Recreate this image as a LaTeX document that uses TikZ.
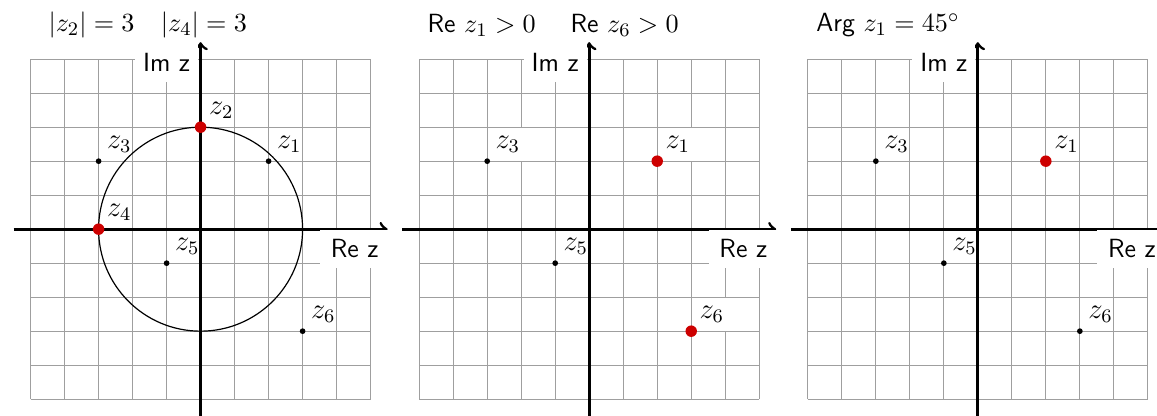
\documentclass[tikz,border=0pt]{standalone}
\definecolor{hotred}{RGB}{205,0,0}
\tikzset{
  gridline/.style={draw=gray!75, line width=0.4pt, step=0.5cm},
  axis/.style={->, line width=1.2pt},
  axislabel/.style={fill=white, font=\sffamily\fontsize{11}{13}\selectfont, minimum height=16pt},
  title/.style={anchor=west, font=\fontsize{11}{13}\selectfont},
  zlabel/.style={anchor=south west, font=\large},
  dot/.style={circle, fill=black, inner sep=0pt, minimum size=2.4pt},
  hot/.style={circle, fill=hotred, inner sep=0pt, minimum size=4.8pt},
}
\begin{document}
\begin{tikzpicture}[x=0.5cm, y=0.5cm, >=to]
  \useasboundingbox (-5.9,-5.47) rectangle (28.13,6.74);

  % Plano 1: modulo
  \draw[gridline] (-5,-5) grid (5,5);
  \node[title] (t1) at (-4.72,6) {$|z_2| = 3 \quad |z_4| = 3$};
  \draw[line width=0.5pt] (0,0) circle (3);
  \coordinate (z1a) at (2,2);
  \coordinate (z2a) at (0,3);
  \coordinate (z3a) at (-3,2);
  \coordinate (z4a) at (-3,0);
  \coordinate (z5a) at (-1,-1);
  \coordinate (z6a) at (3,-3);
  \node[zlabel] (l1a) at (z1a) {$z_1$};
  \node[zlabel] (l2a) at (z2a) {$z_2$};
  \node[zlabel] (l3a) at (z3a) {$z_3$};
  \node[zlabel] (l4a) at (z4a) {$z_4$};
  \node[zlabel] (l5a) at (z5a) {$z_5$};
  \node[zlabel] (l6a) at (z6a) {$z_6$};
  \coordinate (xla) at (-5.5,0);
  \coordinate (xra) at (5.5,0);
  \coordinate (yba) at (0,-5.5);
  \coordinate (yta) at (0,5.5);
  \draw[axis] (xla) -- (xra);
  \draw[axis] (yba) -- (yta);
  \node[axislabel, anchor=south east] (ima) at (-0.06,4.32) {Im z};
  \node[axislabel, anchor=south west, minimum width=29pt] (rea) at (3.5,-1.15) {Re z};
  \node[dot] (d1a) at (z1a) {};
  \node[hot] (d2a) at (z2a) {};
  \node[dot] (d3a) at (z3a) {};
  \node[hot] (d4a) at (z4a) {};
  \node[dot] (d5a) at (z5a) {};
  \node[dot] (d6a) at (z6a) {};

  % Plano 2: parte real
  \begin{scope}[xshift=5.715cm]
    \draw[gridline] (-5,-5) grid (5,5);
    \node[title] (t2) at (-5,6) {{\sffamily Re} $z_1 > 0$ \quad {\sffamily Re} $z_6 > 0$};
    \coordinate (z1b) at (2,2);
    \coordinate (z3b) at (-3,2);
    \coordinate (z5b) at (-1,-1);
    \coordinate (z6b) at (3,-3);
    \node[zlabel, fill=white] (l1b) at (z1b) {$z_1$};
    \node[zlabel, fill=white] (l3b) at (z3b) {$z_3$};
    \node[zlabel, fill=white] (l5b) at (z5b) {$z_5$};
    \node[zlabel, fill=white] (l6b) at (z6b) {$z_6$};
    \coordinate (xlb) at (-5.5,0);
    \coordinate (xrb) at (5.5,0);
    \coordinate (ybb) at (0,-5.5);
    \coordinate (ytb) at (0,5.5);
    \draw[axis] (xlb) -- (xrb);
    \draw[axis] (ybb) -- (ytb);
    \node[axislabel, anchor=south east] (imb) at (-0.06,4.32) {Im z};
    \node[axislabel, anchor=south west, minimum width=29pt] (reb) at (3.5,-1.15) {Re z};
    \node[hot] (d1b) at (z1b) {};
    \node[dot] (d3b) at (z3b) {};
    \node[dot] (d5b) at (z5b) {};
    \node[hot] (d6b) at (z6b) {};
  \end{scope}

  % Plano 3: argumento
  \begin{scope}[xshift=11.43cm]
    \draw[gridline] (-5,-5) grid (5,5);
    \node[title] (t3) at (-5,6) {{\sffamily Arg} $z_1 = 45^\circ$};
    \coordinate (z1c) at (2,2);
    \coordinate (z3c) at (-3,2);
    \coordinate (z5c) at (-1,-1);
    \coordinate (z6c) at (3,-3);
    \node[zlabel] (l1c) at (z1c) {$z_1$};
    \node[zlabel] (l3c) at (z3c) {$z_3$};
    \node[zlabel] (l5c) at (z5c) {$z_5$};
    \node[zlabel] (l6c) at (z6c) {$z_6$};
    \coordinate (xlc) at (-5.5,0);
    \coordinate (xrc) at (5.5,0);
    \coordinate (ybc) at (0,-5.5);
    \coordinate (ytc) at (0,5.5);
    \draw[axis] (xlc) -- (xrc);
    \draw[axis] (ybc) -- (ytc);
    \node[axislabel, anchor=south east] (imc) at (-0.06,4.32) {Im z};
    \node[axislabel, anchor=south west, minimum width=29pt] (rec) at (3.5,-1.15) {Re z};
    \node[hot] (d1c) at (z1c) {};
    \node[dot] (d3c) at (z3c) {};
    \node[dot] (d5c) at (z5c) {};
    \node[dot] (d6c) at (z6c) {};
  \end{scope}
\end{tikzpicture}
\end{document}
